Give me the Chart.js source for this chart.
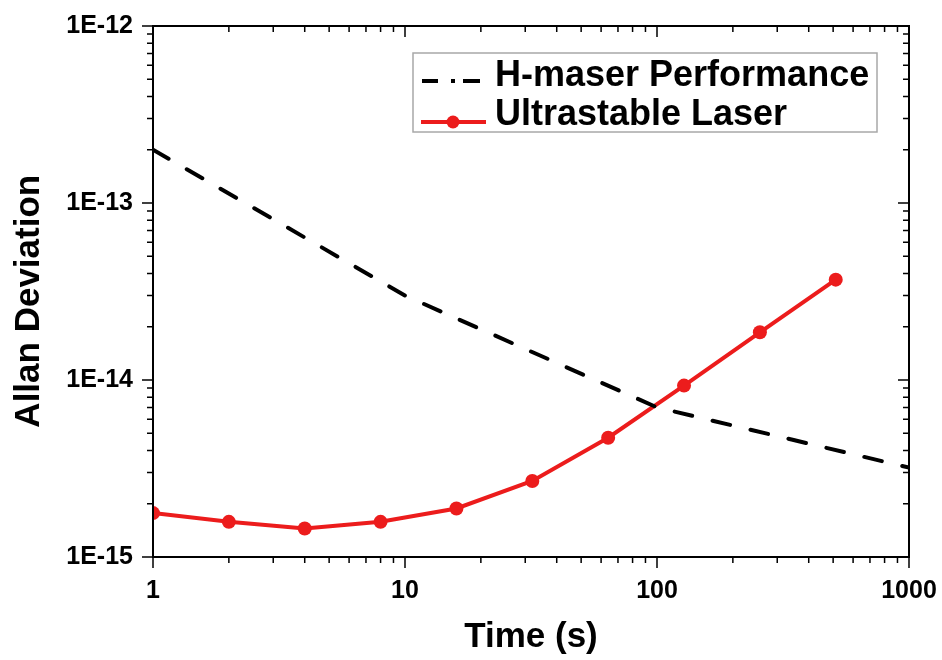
<!DOCTYPE html>
<html lang="en">
<head>
    <meta charset="UTF-8">
    <title>Allan Deviation</title>
    <style>
        body {
            margin: 0;
            padding: 0;
            background: #ffffff;
            overflow: hidden;
        }
        #wrap {
            width: 942px;
            height: 660px;
            position: relative;
        }
    </style>
</head>
<body>
    <div id="wrap"><canvas id="adev"></canvas></div>

    <script src="https://cdn.jsdelivr.net/npm/chart.js"></script>
    <script>
        // averaging times (s) and measured values
        const tau = [1, 2, 4, 8, 16, 32, 64, 128, 256, 512];
        const laserAdev = [1.77e-15, 1.58e-15, 1.45e-15, 1.58e-15, 1.88e-15, 2.69e-15, 4.72e-15, 9.3e-15, 1.86e-14, 3.69e-14];
        const maserTau = [1, 10, 100, 1000];
        const maserAdev = [2e-13, 3e-14, 7e-15, 3.2e-15];
        const xTickLabels = [1, 10, 100, 1000];
        const seriesNames = ['H-maser Performance', 'Ultrastable Laser'];

        const FONT = "'Liberation Sans', Arial, sans-serif";
        const RED = '#ec1c1c';

        function isDecade(v) {
            const e = Math.log10(v);
            return Math.abs(e - Math.round(e)) < 1e-6;
        }

        // frame plus ticks on all four sides: outward on left/bottom, inward on top/right
        const frameTicks = {
            id: 'frameTicks',
            afterDraw(chart) {
                const ctx = chart.ctx;
                const a = chart.chartArea;
                const xs = chart.scales.x, ys = chart.scales.y;
                ctx.save();
                ctx.strokeStyle = '#000';
                ctx.lineWidth = 2;
                ctx.strokeRect(a.left, a.top, a.right - a.left, a.bottom - a.top);
                ctx.lineWidth = 1.5;
                ctx.beginPath();
                for (let e = 0; e <= 3; e++) {
                    for (let k = 1; k <= 9; k++) {
                        const v = k * Math.pow(10, e);
                        if (v > 1000) continue;
                        const px = xs.getPixelForValue(v);
                        const len = k === 1 ? 11 : 6;
                        ctx.moveTo(px, a.bottom); ctx.lineTo(px, a.bottom + len);
                        ctx.moveTo(px, a.top); ctx.lineTo(px, a.top + len);
                    }
                }
                for (let e = -15; e <= -12; e++) {
                    for (let k = 1; k <= 9; k++) {
                        if (e === -12 && k > 1) continue;
                        const py = ys.getPixelForValue(k * Math.pow(10, e));
                        const len = k === 1 ? 11 : 6;
                        ctx.moveTo(a.left, py); ctx.lineTo(a.left - len, py);
                        ctx.moveTo(a.right, py); ctx.lineTo(a.right - len, py);
                    }
                }
                ctx.stroke();
                ctx.restore();
            }
        };

        // boxed legend in the upper right corner
        const boxLegend = {
            id: 'boxLegend',
            afterDraw(chart) {
                const ctx = chart.ctx;
                const bx = 413, by = 53, bw = 464, bh = 79;
                ctx.save();
                ctx.fillStyle = '#fff';
                ctx.fillRect(bx, by, bw, bh);
                ctx.strokeStyle = '#a8a8a8';
                ctx.lineWidth = 1.5;
                ctx.strokeRect(bx, by, bw, bh);

                // dash-dot sample
                ctx.strokeStyle = '#000';
                ctx.lineWidth = 4;
                ctx.lineCap = 'butt';
                ctx.beginPath();
                ctx.moveTo(422, 81); ctx.lineTo(438, 81);
                ctx.moveTo(451, 81); ctx.lineTo(455, 81);
                ctx.moveTo(463, 81); ctx.lineTo(480, 81);
                ctx.stroke();

                // line + marker sample
                ctx.strokeStyle = RED;
                ctx.beginPath();
                ctx.moveTo(421, 122); ctx.lineTo(486, 122);
                ctx.stroke();
                ctx.fillStyle = RED;
                ctx.beginPath();
                ctx.arc(453, 122, 6.5, 0, Math.PI * 2);
                ctx.fill();

                ctx.fillStyle = '#000';
                ctx.font = 'bold 36px ' + FONT;
                ctx.textBaseline = 'middle';
                ctx.textAlign = 'left';
                ctx.fillText(seriesNames[0], 495, 76);
                ctx.fillText(seriesNames[1], 495, 115);
                ctx.restore();
            }
        };

        new Chart(document.getElementById('adev'), {
            type: 'line',
            data: {
                datasets: [{
                    label: seriesNames[0],
                    data: maserTau.map((t, i) => ({ x: t, y: maserAdev[i] })),
                    borderColor: '#000',
                    borderWidth: 4,
                    borderDash: [18, 21],
                    borderCapStyle: 'round',
                    pointRadius: 0,
                    fill: false,
                    tension: 0
                }, {
                    label: seriesNames[1],
                    data: tau.map((t, i) => ({ x: t, y: laserAdev[i] })),
                    borderColor: RED,
                    backgroundColor: RED,
                    borderWidth: 4,
                    pointRadius: 7,
                    pointBackgroundColor: RED,
                    pointBorderWidth: 0,
                    fill: false,
                    tension: 0
                }]
            },
            options: {
                responsive: true,
                maintainAspectRatio: false,
                animation: false,
                layout: { padding: { top: 26, right: 33, left: 0, bottom: 0 } },
                plugins: {
                    legend: { display: false },
                    tooltip: { enabled: false }
                },
                scales: {
                    x: {
                        type: 'logarithmic',
                        min: 1,
                        max: 1000,
                        grid: { display: false },
                        border: { display: false },
                        afterFit: s => { s.height = 103; s.paddingLeft = 0; s.paddingRight = 0; },
                        ticks: {
                            autoSkip: false,
                            maxRotation: 0,
                            padding: 11,
                            color: '#000',
                            font: { family: FONT, size: 25, weight: 'bold' },
                            callback: v => xTickLabels.some(t => Math.abs(t - v) < 1e-9) ? String(v) : null
                        },
                        title: {
                            display: true,
                            text: 'Time (s)',
                            color: '#000',
                            font: { family: FONT, size: 35, weight: 'bold', lineHeight: 1.2 },
                            padding: { top: 0, bottom: 2 }
                        }
                    },
                    y: {
                        type: 'logarithmic',
                        min: 1e-15,
                        max: 1e-12,
                        grid: { display: false },
                        border: { display: false },
                        afterFit: s => { s.width = 153; s.paddingTop = 0; s.paddingBottom = 0; },
                        ticks: {
                            autoSkip: false,
                            padding: 12,
                            color: '#000',
                            font: { family: FONT, size: 25, weight: 'bold' },
                            callback: v => isDecade(v) ? '1E' + Math.round(Math.log10(v)) : null
                        },
                        title: {
                            display: true,
                            text: 'Allan Deviation  ',
                            color: '#000',
                            font: { family: FONT, size: 35, weight: 'bold', lineHeight: 1.2 },
                            padding: { top: 8, bottom: 0 }
                        }
                    }
                }
            },
            plugins: [frameTicks, boxLegend]
        });
    </script>
</body>
</html>
